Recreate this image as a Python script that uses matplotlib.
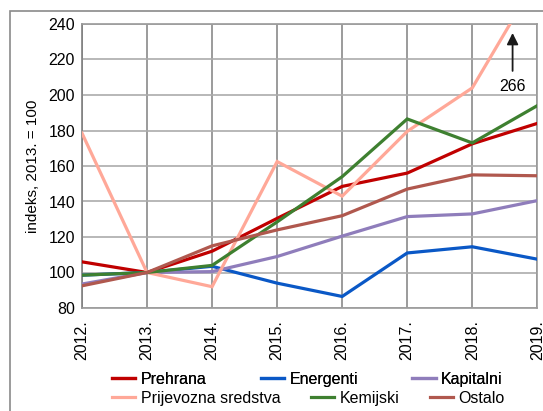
import matplotlib
matplotlib.use("Agg")
import matplotlib.pyplot as plt
from matplotlib.patches import Rectangle

plt.rcParams['font.family'] = ['Liberation Sans', 'DejaVu Sans']

# data (index, 2013 = 100)
years = [2012, 2013, 2014, 2015, 2016, 2017, 2018, 2019]
year_labels = ['2012.', '2013.', '2014.', '2015.', '2016.', '2017.', '2018.', '2019.']

prehrana = [106, 100, 112, 130.5, 148.5, 156, 172.5, 184]
energenti = [98.5, 100, 103.5, 94, 86.5, 111, 114.5, 107.5]
kapitalni = [93.5, 100, 100.5, 109, 120.5, 131.5, 133, 140.5]
prijevozna = [178.5, 100, 92, 162.5, 143, 179.5, 204, 266]
kemijski = [98.5, 100, 104, 128.5, 154, 186.5, 173, 194]
ostalo = [92.5, 100, 115, 124, 132, 147, 155, 154.5]

series = [
    ('Prehrana', prehrana, '#C00000'),
    ('Energenti', energenti, '#0A58C6'),
    ('Kapitalni', kapitalni, '#8F7DBB'),
    ('Prijevozna sredstva', prijevozna, '#FFA898'),
    ('Kemijski', kemijski, '#3E8030'),
    ('Ostalo', ostalo, '#B0584E'),
]

fig = plt.figure(figsize=(5.43, 4.11), dpi=100)
# grey frame around the whole chart
fig.patches.append(Rectangle((10 / 543, -0.1), 1.2, 1.1 - 11 / 411,
                             transform=fig.transFigure, fill=False,
                             edgecolor='#8A8A8A', linewidth=1.2))

ax = fig.add_axes([82 / 543, 1 - 308 / 411, (537.3 - 82) / 543, (308 - 24) / 411])

lines = {}
for name, vals, col in series:
    ln, = ax.plot(years, vals, color=col, linewidth=2.3, label=name,
                  solid_joinstyle='miter', zorder=3)
    lines[name] = ln

ax.set_xlim(2012, 2019)
ax.set_ylim(80, 240)
ax.set_xticks(years)
ax.set_xticklabels(year_labels, rotation=90, fontsize=11.5)
ax.set_yticks(range(80, 241, 20))
ax.tick_params(axis='y', labelsize=11.5, length=0, pad=5)
ax.tick_params(axis='x', length=0, pad=9)

ax.grid(axis='x', color='#808080', linewidth=1.1)
ax.grid(axis='y', color='#ABABAB', linewidth=1.2)
for s in ax.spines.values():
    s.set_color('#9A9A9A')
    s.set_linewidth(1.2)
ax.spines['left'].set_color('#808080')

ax.set_ylabel('indeks, 2013. = 100', fontsize=11, labelpad=6)

# arrow showing the clipped 2019 value
ax.annotate('', xy=(2018.62, 236.5), xytext=(2018.62, 212),
            arrowprops=dict(arrowstyle='-|>', color='#1A1A1A', lw=1.3,
                            mutation_scale=17))
ax.text(2018.62, 205, '266', ha='center', va='center', fontsize=11.5)

row1 = ['Prehrana', 'Energenti', 'Kapitalni']
row2 = ['Prijevozna sredstva', 'Kemijski', 'Ostalo']
leg1 = fig.legend([lines[n] for n in row1], row1, ncol=3, frameon=False,
                  fontsize=11.5, loc='center left', bbox_to_anchor=(112 / 543, 1 - 379 / 411),
                  handlelength=1.45, handletextpad=0.35, columnspacing=3.4,
                  borderpad=0, borderaxespad=0)
fig.legend([lines[n] for n in row2], row2, ncol=3, frameon=False,
           fontsize=11.5, loc='center left', bbox_to_anchor=(112 / 543, 1 - 398 / 411),
           handlelength=1.45, handletextpad=0.35, columnspacing=1.9,
           borderpad=0, borderaxespad=0)
fig.add_artist(leg1)

fig.savefig('out.png', dpi=100)
